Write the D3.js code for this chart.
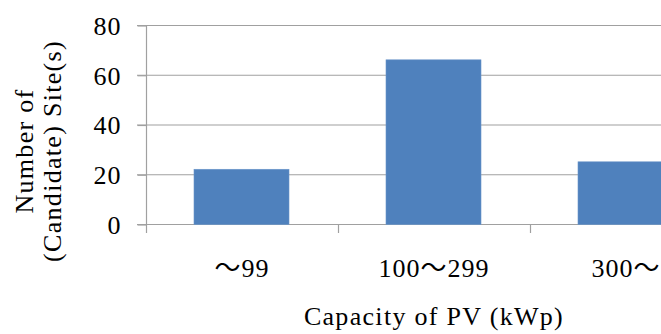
<!DOCTYPE html>
<html>
<head>
<meta charset="utf-8">
<script src="https://cdn.jsdelivr.net/npm/d3@7"></script>
<style>
  body { margin: 0; background: #fff; }
  svg text { font-family: "Liberation Serif", "Noto Sans CJK JP", serif; fill: #000; font-size: 26px; }
</style>
</head>
<body>
<div id="chart"></div>
<script>
// Data
var categories = ["～99", "100～299", "300～"];
var siteCounts = [22, 66, 25];
var yTicks = [0, 20, 40, 60, 80];

var width = 661, height = 334;

// Plot area (the right part of the plot runs past the picture edge)
var plot = {left: 146, right: 722, top: 25, bottom: 224};

var xScale = d3.scaleBand()
    .domain(categories)
    .range([plot.left, plot.right])
    .paddingInner(0.5)
    .paddingOuter(0.25);

var yScale = d3.scaleLinear()
    .domain([0, 80])
    .range([plot.bottom, plot.top]);

var svg = d3.select("#chart")
  .append("svg")
    .attr("width", width)
    .attr("height", height);

svg.append("rect")
  .attr("width", width)
  .attr("height", height)
  .attr("fill", "#fff");

// Horizontal gridlines
svg.append("g")
    .attr("class", "grid")
  .selectAll("line")
  .data(yTicks)
  .enter().append("line")
    .attr("x1", plot.left - 9)
    .attr("x2", plot.right)
    .attr("y1", function (d) { return yScale(d) + 0.5; })
    .attr("y2", function (d) { return yScale(d) + 0.5; })
    .attr("stroke", "#a0a0a0")
    .attr("stroke-width", 1.2);

// Bars
svg.append("g")
  .selectAll("rect")
  .data(siteCounts)
  .enter().append("rect")
    .attr("x", function (d, i) { return xScale(categories[i]); })
    .attr("width", xScale.bandwidth() - 1)
    .attr("y", function (d) { return yScale(d); })
    .attr("height", function (d) { return yScale(0) - yScale(d) + 0.5; })
    .attr("fill", "#4f81bd")
    .attr("stroke", "#6a95c9")
    .attr("stroke-width", 0.6);

// Y axis
var yAxis = d3.axisLeft(yScale)
    .tickValues(yTicks)
    .tickSizeInner(9)
    .tickSizeOuter(0)
    .tickPadding(16);

var gy = svg.append("g")
    .attr("transform", "translate(" + (plot.left + 0.5) + ",0.5)")
    .call(yAxis);
gy.select(".domain").remove();
gy.selectAll(".tick line").attr("stroke", "#a0a0a0").attr("stroke-width", 1.2);
gy.selectAll("text")
    .attr("font-family", null).attr("font-size", null)
    .style("letter-spacing", "1px")
    .attr("dy", "0.34em");

// vertical axis line, running down past the zero line
svg.append("line")
    .attr("x1", plot.left + 0.5).attr("x2", plot.left + 0.5)
    .attr("y1", plot.top).attr("y2", plot.bottom + 9)
    .attr("stroke", "#a0a0a0")
    .attr("stroke-width", 1.2);

// X axis: ticks sit between the categories
var step = xScale.step();
var boundaries = categories.map(function (c) { return xScale(c) - xScale.paddingInner() * step / 2 + step; });
svg.append("g")
  .selectAll("line")
  .data(boundaries)
  .enter().append("line")
    .attr("x1", function (d) { return Math.round(d) + 0.5; })
    .attr("x2", function (d) { return Math.round(d) + 0.5; })
    .attr("y1", plot.bottom)
    .attr("y2", plot.bottom + 9)
    .attr("stroke", "#a0a0a0")
    .attr("stroke-width", 1.2);

svg.append("g")
  .selectAll("text")
  .data(categories)
  .enter().append("text")
    .attr("x", function (d) { return xScale(d) + xScale.bandwidth() / 2; })
    .attr("y", 277)
    .attr("text-anchor", "middle")
    .style("letter-spacing", "1px")
    .text(function (d) { return d; });

// Axis titles
svg.append("text")
    .attr("x", 434)
    .attr("y", 325)
    .attr("text-anchor", "middle")
    .style("letter-spacing", "1.3px")
    .text("Capacity of PV (kWp)");

var yTitle = svg.append("g")
    .attr("transform", "translate(0,151) rotate(-90)");
yTitle.append("text")
    .attr("x", 0).attr("y", 33)
    .attr("text-anchor", "middle")
    .style("letter-spacing", "1.3px")
    .text("Number of");
yTitle.append("text")
    .attr("x", 0).attr("y", 61)
    .attr("text-anchor", "middle")
    .style("letter-spacing", "1.3px")
    .text("(Candidate) Site(s)");
</script>
</body>
</html>
